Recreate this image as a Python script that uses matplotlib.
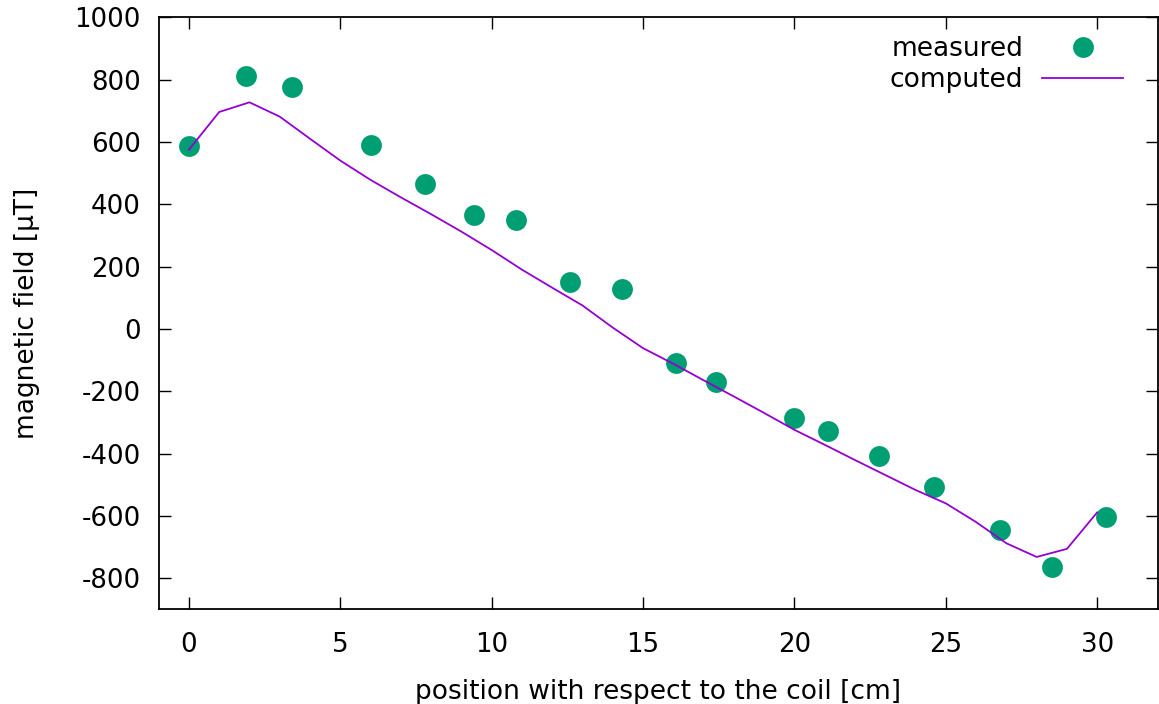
import numpy as np
import matplotlib.pyplot as plt

plt.rcParams["axes.unicode_minus"] = False

# measured points
meas_x = [0.0, 1.9, 3.4, 6.0, 7.8, 9.4, 10.8, 12.6, 14.3, 16.1, 17.4,
          20.0, 21.1, 22.8, 24.6, 26.8, 28.5, 30.3]
meas_b = [588, 812, 777, 591, 465, 366, 348, 149, 128, -109, -169,
          -286, -327, -407, -506, -644, -765, -605]

# computed curve (1 cm steps)
comp_x = list(range(0, 31))
comp_b = [575, 696, 727, 681, 610, 540, 478, 422, 368, 312, 253, 190, 132,
          75, 4, -62, -112, -165, -217, -270, -324, -372, -421, -469, -517,
          -560, -620, -688, -732, -706, -589]

green = "#009e73"
violet = "#9400d3"
fs = 19
tfs = 18.7

fig = plt.figure(figsize=(11.59, 7.04), dpi=100)
ax = fig.add_axes([0.1369, 0.1345, 0.862, 0.841])

ax.plot(meas_x, meas_b, "o", color=green, ms=15, mec="none", label="measured")
ax.plot(comp_x, comp_b, "-", color=violet, lw=1.3, label="computed")

ax.set_xlim(-1, 32)
ax.set_ylim(-900, 1000)
ax.set_xticks(np.arange(0, 31, 5))
ax.set_yticks(np.arange(-800, 1001, 200))

ax.tick_params(direction="in", length=8.5, width=1.0, top=True, right=True,
               labelsize=tfs)
ax.tick_params(axis="x", pad=16.5)
ax.tick_params(axis="y", pad=13)
for s in ax.spines.values():
    s.set_linewidth(1.3)

ax.set_xlabel("position with respect to the coil [cm]", fontsize=fs, labelpad=15)
ax.set_ylabel("magnetic field [µT]", fontsize=fs, labelpad=25)

ax.legend(loc="upper right", bbox_to_anchor=(0.9653, 0.968), frameon=False,
          markerfirst=False, fontsize=fs, handlelength=3.07, handletextpad=0.72,
          labelspacing=0.2, borderaxespad=0, borderpad=0)

fig.savefig("out.png")
